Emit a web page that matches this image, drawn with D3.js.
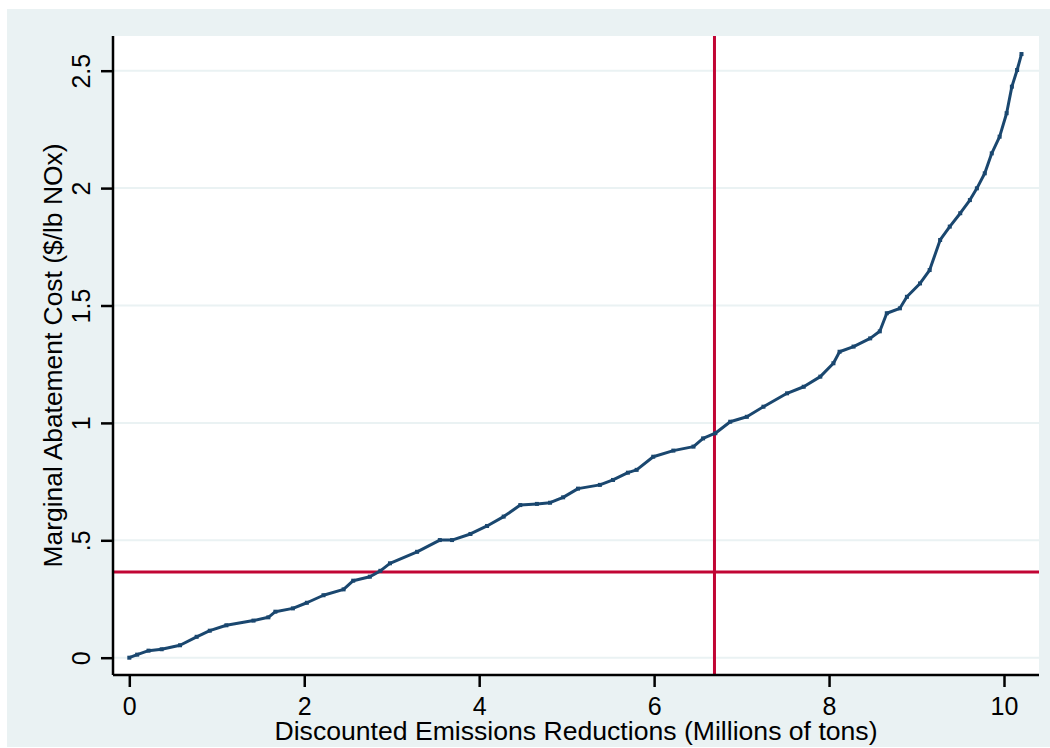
<!DOCTYPE html>
<html>
<head>
<meta charset="UTF-8">
<title>Marginal abatement cost</title>
<script src="https://cdn.jsdelivr.net/npm/d3@7"></script>
<style>
  body { margin: 0; background: #fff; }
  text { font-family: "Liberation Sans", Arial, sans-serif; fill: #000; }
</style>
</head>
<body>
<script>
// data (millions of tons, $/lb NOx)
var reductions = [0, 0.09, 0.22, 0.37, 0.58, 0.77, 0.92, 1.11, 1.42, 1.59, 1.67, 1.87, 2.03, 2.22, 2.45, 2.56, 2.75, 2.87,
  2.98, 3.29, 3.55, 3.69, 3.90, 4.09, 4.28, 4.47, 4.66, 4.81, 4.96, 5.13, 5.38, 5.53, 5.70,
  5.80, 5.99, 6.22, 6.45, 6.56, 6.70, 6.87, 7.06, 7.25, 7.52, 7.71, 7.90, 8.05, 8.12, 8.28, 8.47,
  8.58, 8.66, 8.81, 8.89, 9.04, 9.15, 9.27, 9.38, 9.50, 9.61, 9.69, 9.78, 9.86, 9.95, 10.03, 10.09, 10.15, 10.20];
var costs = [0, 0.013, 0.03, 0.036, 0.053, 0.089, 0.115, 0.138, 0.158, 0.172, 0.196, 0.210, 0.234, 0.266, 0.291, 0.328, 0.345, 0.37,
  0.402, 0.451, 0.501, 0.501, 0.527, 0.561, 0.601, 0.650, 0.655, 0.660, 0.683, 0.720, 0.736, 0.757, 0.788,
  0.80, 0.856, 0.882, 0.899, 0.934, 0.956, 1.005, 1.026, 1.069, 1.126, 1.154, 1.197, 1.254, 1.303, 1.325, 1.360,
  1.39, 1.467, 1.488, 1.537, 1.594, 1.651, 1.779, 1.836, 1.893, 1.949, 1.999, 2.063, 2.148, 2.219, 2.319, 2.432, 2.503, 2.571];

var xTicks = [0, 2, 4, 6, 8, 10];
var yTicks = [0, 0.5, 1, 1.5, 2, 2.5];
var yTickLabels = ["0", ".5", "1", "1.5", "2", "2.5"];
var refX = 6.69;   // vertical reference line
var refY = 0.365;  // horizontal reference line

var W = 1050, H = 748;
var plot = {left: 113, right: 1039, top: 36, bottom: 675};

var x = d3.scaleLinear().domain([0, 10]).range([129.3, 1004]);
var y = d3.scaleLinear().domain([0, 2.5]).range([657.7, 70.7]);

var svg = d3.select("body").append("svg")
  .attr("width", W)
  .attr("height", H);

// outer graph region
svg.append("rect")
  .attr("x", 7).attr("y", 9)
  .attr("width", W - 7).attr("height", 738)
  .attr("fill", "#eaf2f3");

// plot region
svg.append("rect")
  .attr("x", plot.left).attr("y", plot.top)
  .attr("width", plot.right - plot.left).attr("height", plot.bottom - plot.top)
  .attr("fill", "#fff");

// grid lines
svg.append("g").selectAll("line")
  .data(yTicks)
  .join("line")
  .attr("x1", plot.left).attr("x2", plot.right)
  .attr("y1", d => y(d)).attr("y2", d => y(d))
  .attr("stroke", "#eaf2f3")
  .attr("stroke-width", 2);

// reference lines
svg.append("line")
  .attr("x1", plot.left).attr("x2", plot.right)
  .attr("y1", y(refY)).attr("y2", y(refY))
  .attr("stroke", "#c10534").attr("stroke-width", 3);
svg.append("line")
  .attr("x1", x(refX)).attr("x2", x(refX))
  .attr("y1", plot.top).attr("y2", plot.bottom)
  .attr("stroke", "#c10534").attr("stroke-width", 3);

// curve
var pts = reductions.map((d, i) => [d, costs[i]]);
var line = d3.line()
  .x(d => x(d[0]))
  .y(d => y(d[1]));

svg.append("path")
  .datum(pts)
  .attr("d", line)
  .attr("fill", "none")
  .attr("stroke", "#1a476f")
  .attr("stroke-width", 3)
  .attr("stroke-linejoin", "round");

svg.append("g").selectAll("rect")
  .data(pts)
  .join("rect")
  .attr("x", d => x(d[0]) - 2)
  .attr("y", d => y(d[1]) - 2)
  .attr("width", 4).attr("height", 4)
  .attr("fill", "#1a476f");

// y axis
var yAxis = svg.append("g")
  .attr("transform", "translate(" + plot.left + ",0)")
  .call(d3.axisLeft(y).tickValues(yTicks).tickSize(12).tickPadding(0)
    .tickFormat((d, i) => yTickLabels[i]));
yAxis.select(".domain").attr("d", "M0," + plot.top + "V" + plot.bottom);
yAxis.selectAll("line, path").attr("stroke", "#000").attr("stroke-width", 2.5);
yAxis.selectAll("text")
  .attr("font-size", 25)
  .attr("x", 0).attr("dy", 0)
  .attr("text-anchor", "middle")
  .attr("transform", "translate(-23,0) rotate(-90)");

// x axis
var xAxis = svg.append("g")
  .attr("transform", "translate(0," + plot.bottom + ")")
  .call(d3.axisBottom(x).tickValues(xTicks).tickSize(12).tickPadding(0)
    .tickFormat(d3.format("d")));
xAxis.select(".domain").attr("d", "M" + plot.left + ",0H" + plot.right);
xAxis.selectAll("line, path").attr("stroke", "#000").attr("stroke-width", 2.5);
xAxis.selectAll("text")
  .attr("font-size", 25)
  .attr("y", 40).attr("dy", 0);

// axis titles
svg.append("text")
  .attr("x", (plot.left + plot.right) / 2)
  .attr("y", 740)
  .attr("text-anchor", "middle")
  .attr("font-size", 26.6)
  .text("Discounted Emissions Reductions (Millions of tons)");

svg.append("text")
  .attr("transform", "translate(62," + ((plot.top + plot.bottom) / 2) + ") rotate(-90)")
  .attr("text-anchor", "middle")
  .attr("font-size", 26.4)
  .text("Marginal Abatement Cost ($/lb NOx)");
</script>
</body>
</html>
